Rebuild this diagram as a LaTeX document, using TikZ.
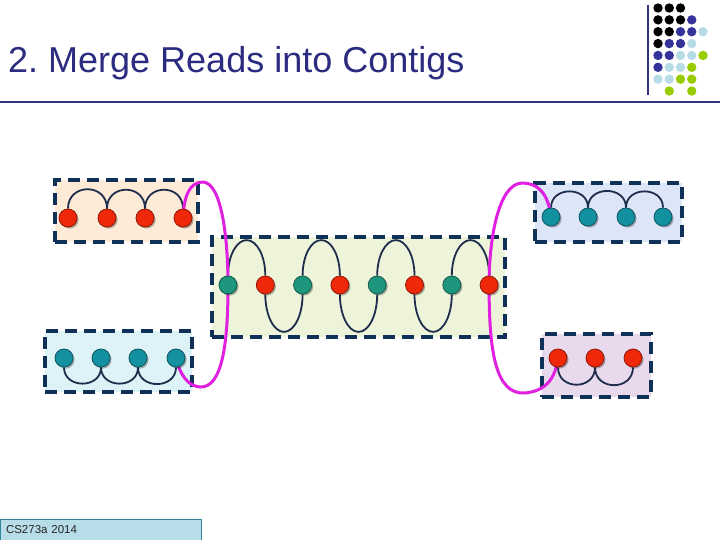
\documentclass[tikz,border=0pt]{standalone}
\usepackage{fontspec}
\setmainfont{Liberation Sans}
\usetikzlibrary{shadows}

\definecolor{titleblue}{RGB}{43,43,128}
\definecolor{ruleblue}{RGB}{50,50,130}
\definecolor{logok}{RGB}{0,0,0}
\definecolor{logob}{RGB}{51,51,153}
\definecolor{logol}{RGB}{184,220,230}
\definecolor{logog}{RGB}{153,204,0}
\definecolor{logon}{RGB}{255,255,255}
\definecolor{readred}{RGB}{240,40,10}
\definecolor{readgreen}{RGB}{30,150,125}
\definecolor{readteal}{RGB}{20,145,160}
\definecolor{boxline}{RGB}{15,48,87}
\definecolor{linkcol}{RGB}{30,45,75}
\definecolor{mergepink}{RGB}{224,32,224}
\definecolor{fillA}{RGB}{253,235,216}
\definecolor{fillB}{RGB}{238,244,218}
\definecolor{fillC}{RGB}{221,229,249}
\definecolor{fillD}{RGB}{222,243,247}
\definecolor{fillE}{RGB}{232,218,236}
\definecolor{footfill}{RGB}{183,221,232}
\definecolor{footline}{RGB}{49,132,155}

\pgfdeclarelayer{boxes}
\pgfdeclarelayer{links}
\pgfsetlayers{boxes,links,main}

\begin{document}
\begin{tikzpicture}[
  x=1pt, y=1pt,
  dot/.style={circle, minimum size=18pt, inner sep=0pt, line width=.8pt,
    drop shadow={shadow xshift=1.6pt, shadow yshift=-1.6pt, fill=black, opacity=.3}},
  reddot/.style={dot, fill=readred, draw=readred!60!black},
  greendot/.style={dot, fill=readgreen, draw=readgreen!60!black},
  tealdot/.style={dot, fill=readteal, draw=readteal!60!black},
  readbox/.style={draw=boxline, line width=4pt, dash pattern=on 12pt off 7pt, inner sep=0pt},
  readlink/.style={draw=linkcol, line width=1.8pt},
  mergeline/.style={draw=mergepink, line width=3pt},
]
  \useasboundingbox (0,0) rectangle (720,-540);

  \node[anchor=base west, inner sep=0pt, text=titleblue,
    font=\fontsize{36}{40}\selectfont] (title) at (8,-73) {2.\ Merge Reads into Contigs};
  \draw[ruleblue, line width=2.8pt] (0,-102) -- (720,-102);
  \draw[ruleblue, line width=2.5pt] (648,-5) -- (648,-95);
  \foreach \row [count=\r] in {{k,k,k},{k,k,k,b},{k,k,b,b,l},{k,b,b,l},
      {b,b,l,l,g},{b,l,l,g},{l,l,g,g},{n,g,n,g}}
    \foreach \col [count=\c] in \row
      \fill[logo\col] (646.75+11.25*\c,3.86-11.86*\r) circle (4.7);

  \begin{pgfonlayer}{boxes}
    \node[readbox, fill=fillA, minimum width=143pt, minimum height=62pt] (boxA) at (126.5,-211) {};
    \node[readbox, fill=fillB, minimum width=293pt, minimum height=100pt] (boxB) at (358.5,-287) {};
    \node[readbox, fill=fillC, minimum width=147pt, minimum height=59pt] (boxC) at (608.5,-212.5) {};
    \node[readbox, fill=fillD, minimum width=147pt, minimum height=61pt] (boxD) at (118.5,-361.5) {};
    \node[readbox, fill=fillE, minimum width=109pt, minimum height=63pt] (boxE) at (596.5,-365.5) {};
  \end{pgfonlayer}

  \foreach \x [count=\i] in {68,107,145,183}
    \node[reddot] (a\i) at (\x,-218) {};
  \foreach \i/\x/\s in {1/228/greendot,2/265.3/reddot,3/302.6/greendot,4/339.9/reddot,
      5/377.2/greendot,6/414.5/reddot,7/451.8/greendot,8/489.1/reddot}
    \node[\s] (b\i) at (\x,-285) {};
  \foreach \x [count=\i] in {551,588,626,663}
    \node[tealdot] (c\i) at (\x,-217) {};
  \foreach \x [count=\i] in {64,101,138,176}
    \node[tealdot] (d\i) at (\x,-358) {};
  \foreach \x [count=\i] in {558,595,633}
    \node[reddot] (e\i) at (\x,-358) {};

  \begin{pgfonlayer}{links}
    \foreach \i [remember=\i as \p (initially 1)] in {2,3,4} {
      \draw[readlink] (a\p.north) to[out=90, in=90, looseness=1.7] (a\i.north);
      \draw[readlink] (c\p.north) to[out=90, in=90, looseness=1.5] (c\i.north);
      \draw[readlink] (d\p.south) to[out=-90, in=-90, looseness=1.5] (d\i.south);
    }
    \foreach \i [remember=\i as \p (initially 1)] in {2,3}
      \draw[readlink] (e\p.south) to[out=-90, in=-90, looseness=1.6] (e\i.south);
    \foreach \p/\side/\ea/\ry in {1/north/0/35.5,2/south/360/37.5,3/north/0/35.5,4/south/360/37.5,
        5/north/0/35.5,6/south/360/37.5,7/north/0/35.5}
      \draw[readlink] (b\p.\side) arc[start angle=180, end angle=\ea, x radius=18.65, y radius=\ry];

    \draw[mergeline] (a4.center) .. controls (184,-195) and (190,-182) .. (203,-182)
      .. controls (222,-183) and (228,-240) .. (b1.center)
      .. controls (228,-345) and (222,-388) .. (200,-387)
      .. controls (188,-386) and (180,-375) .. (d4.center);
    \draw[mergeline] (c1.center) .. controls (548,-192) and (537,-183) .. (522,-183)
      .. controls (498,-184) and (489,-240) .. (b8.center)
      .. controls (489,-350) and (495,-395) .. (525,-393)
      .. controls (545,-391) and (555,-380) .. (e1.center);
  \end{pgfonlayer}

  \node[draw=footline, fill=footfill, line width=1.5pt, minimum width=201pt,
    minimum height=21pt, text width=190pt, align=left, inner sep=0pt,
    font=\fontsize{11.5}{13}\selectfont, text=black!85] (footer) at (101,-530) {CS273a 2014};
\end{tikzpicture}
\end{document}
